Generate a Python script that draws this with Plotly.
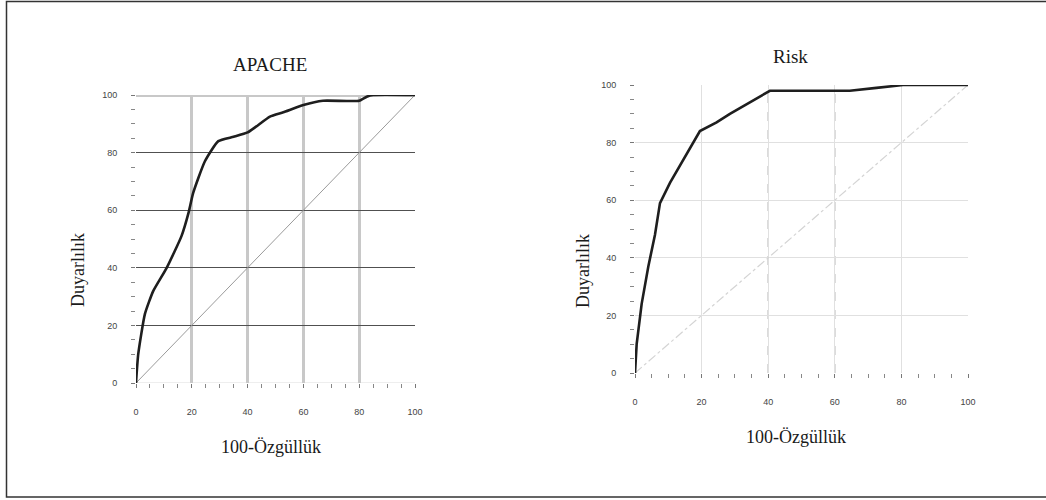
import plotly.graph_objects as go

# APACHE ROC curve
apache_x = [0, 0.8, 3.2, 6.2, 11, 16.3, 18.8, 20.5, 24.7, 29.5, 35, 40, 43, 48, 52.8, 60, 67, 80, 82.7, 85, 100]
apache_y = [0, 10, 24, 32, 40, 51, 59, 66, 77, 84, 85.5, 87, 89, 92.5, 94, 96.5, 98, 98, 99.4, 100, 100]

# Risk ROC curve
risk_x = [0, 0.5, 2, 4, 6, 7.5, 10.5, 14, 19.5, 24.5, 28.5, 40.5, 64.5, 72.5, 80.5, 100]
risk_y = [0, 10, 24, 37, 48, 59, 66, 73, 84, 87, 90, 98, 98, 99, 100, 100]

diag = [0, 100]
tick_vals = [0, 20, 40, 60, 80, 100]
tick_text = ["0", "20", "40", "60", "80", "100"]

titles = ["APACHE", "Risk"]
x_title = "100-Özgüllük"
y_title = "Duyarlılık"

W, H = 1046, 500
def px(x):
    return x / W
def py(y):
    return 1 - y / H

fig = go.Figure()

# Left panel
fig.add_trace(go.Scatter(x=diag, y=diag, mode="lines", line=dict(color="#9a9a9a", width=1),
                         xaxis="x", yaxis="y", showlegend=False, hoverinfo="skip"))
fig.add_trace(go.Scatter(x=apache_x, y=apache_y, mode="lines",
                         line=dict(color="#1e1e1e", width=2.6, shape="spline", smoothing=0.5),
                         xaxis="x", yaxis="y", showlegend=False, cliponaxis=False))
# Right panel
fig.add_trace(go.Scatter(x=diag, y=diag, mode="lines", line=dict(color="#d4d4d4", width=1.2, dash="dashdot"),
                         xaxis="x2", yaxis="y2", showlegend=False, hoverinfo="skip"))
fig.add_trace(go.Scatter(x=risk_x, y=risk_y, mode="lines", line=dict(color="#1e1e1e", width=2.6),
                         xaxis="x2", yaxis="y2", showlegend=False, cliponaxis=False))

tickfont = dict(family="Arial", size=9, color="#444444")
minor = dict(dtick=5, ticks="outside", ticklen=4, tickcolor="#888888", tickwidth=1, showgrid=False)

common = dict(range=[0, 100], tickvals=tick_vals, ticktext=tick_text, zeroline=False, showline=False,
              ticks="outside", ticklen=4, tickcolor="#777", tickfont=tickfont, minor=minor,
              automargin=False, fixedrange=True, showgrid=True)

fig.update_layout(
    width=W, height=H, margin=dict(l=0, r=0, t=0, b=0, autoexpand=False),
    paper_bgcolor="white", plot_bgcolor="white",
    xaxis=dict(common, domain=[px(136), px(415)], gridcolor="#c8c8c8", gridwidth=3,
               ticklabelstandoff=16, anchor="y"),
    yaxis=dict(common, domain=[py(383), py(95)], gridcolor="#505050", gridwidth=1,
               ticklabelstandoff=12, anchor="x"),
    xaxis2=dict(common, domain=[px(635), px(968)], gridcolor="#e0e0e0", gridwidth=1,
                ticklabelstandoff=16, anchor="y2"),
    yaxis2=dict(common, domain=[py(373), py(85)], gridcolor="#e0e0e0", gridwidth=1,
                ticklabelstandoff=12, anchor="x2"),
)

shapes = [
    dict(type="line", xref="x", yref="y", x0=0, x1=100, y0=100, y1=100,
         line=dict(color="#c8c8c8", width=4), layer="below"),
    dict(type="line", xref="x", yref="y", x0=0, x1=100, y0=0, y1=0,
         line=dict(color="#dcdcdc", width=1), layer="below"),
    dict(type="line", xref="x2", yref="y2", x0=40, x1=40, y0=0, y1=100,
         line=dict(color="#8a8a8a", width=1, dash="dash"), layer="below"),
    dict(type="line", xref="x2", yref="y2", x0=60, x1=60, y0=0, y1=100,
         line=dict(color="#8a8a8a", width=1, dash="dash"), layer="below"),
    dict(type="rect", xref="paper", yref="paper", x0=px(6.5), x1=px(1052), y0=py(497), y1=py(1.5),
         line=dict(color="#333333", width=1.5)),
]
fig.update_layout(shapes=shapes)

serif = "Liberation Serif"
ann = [
    dict(text=titles[0], x=px(270), y=py(64), size=19),
    dict(text=titles[1], x=px(791), y=py(57), size=19),
    dict(text=x_title, x=px(271), y=py(447), size=18),
    dict(text=x_title, x=px(796), y=py(437), size=18),
]
for a in ann:
    fig.add_annotation(text=a["text"], x=a["x"], y=a["y"], xref="paper", yref="paper",
                       showarrow=False, xanchor="center", yanchor="middle",
                       font=dict(family=serif, size=a["size"], color="#1a1a1a"))
for xx, yy in [(78, 270), (583, 271)]:
    fig.add_annotation(text=y_title, x=px(xx), y=py(yy), xref="paper", yref="paper",
                       showarrow=False, xanchor="center", yanchor="middle", textangle=-90,
                       font=dict(family=serif, size=18, color="#1a1a1a"))

fig.write_html("out.html", config={"displayModeBar": False},
               post_script="document.body.style.margin='0';document.body.style.overflow='hidden';")
